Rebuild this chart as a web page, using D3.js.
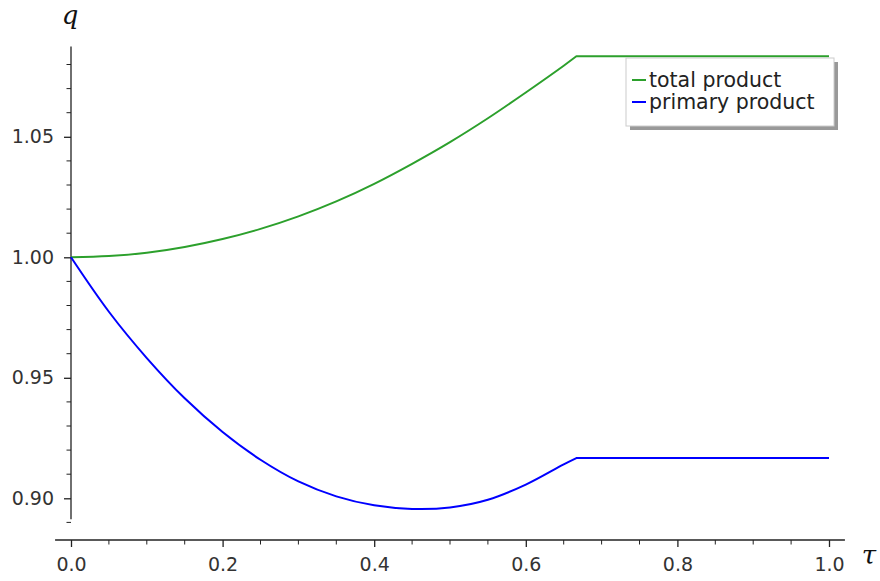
<!DOCTYPE html>
<html>
<head>
<meta charset="utf-8">
<script src="https://cdn.jsdelivr.net/npm/d3@7"></script>
<style>
  body { margin: 0; background: #fff; }
  svg { display: block; font-family: "DejaVu Sans", sans-serif; }
</style>
</head>
<body>
<div id="plot"></div>
<script>
// values
var tau = [0, 0.05, 0.1, 0.15, 0.2, 0.25, 0.3, 0.35, 0.4, 0.45, 0.5, 0.55, 0.6, 0.65, 0.6667, 1.0];
var totalProduct = [1.0, 1.0005, 1.0019, 1.0043, 1.0076, 1.0118, 1.0170, 1.0232, 1.0305, 1.0388,
                    1.0478, 1.0577, 1.0684, 1.0795, 1.0834, 1.0834];
var primaryProduct = [1.0, 0.9774, 0.9582, 0.9415, 0.9275, 0.9160, 0.9070, 0.9008, 0.8971, 0.8956,
                      0.8962, 0.8994, 0.9057, 0.9141, 0.9167, 0.9167];
var seriesNames = ['total product', 'primary product'];
var seriesColors = ['#2ca02c', '#0000ff'];
var xTicks = [0, 0.2, 0.4, 0.6, 0.8, 1.0];
var yTicks = [0.90, 0.95, 1.00, 1.05];
var kink = 14; // index where the curves go flat

var width = 880, height = 581;

var svg = d3.select('#plot').append('svg')
    .attr('width', width)
    .attr('height', height);

var x = d3.scaleLinear().domain([0, 1]).range([71, 829]);
var y = d3.scaleLinear().domain([0.90, 1.05]).range([498.3, 136.8]);

/* y axis */
var yAxis = d3.axisLeft(y)
    .tickValues(yTicks)
    .tickFormat(d3.format('.2f'))
    .tickSize(7)
    .tickPadding(10);
var gy = svg.append('g').attr('transform', 'translate(71,0)').call(yAxis)
    .attr('font-family', '"DejaVu Sans", sans-serif').attr('font-size', 19);
gy.select('.domain').remove();
gy.append('line').attr('x1', 0).attr('x2', 0)
    .attr('y1', y(1.0875)).attr('y2', y(0.8913))
    .attr('stroke', '#222').attr('stroke-width', 1.3);
gy.selectAll('.tick line').attr('stroke', '#222').attr('stroke-width', 1.3);
gy.selectAll('.tick text').attr('fill', '#333');

var yMinor = d3.range(0.89, 1.0851, 0.01).filter(function(v){
    return yTicks.every(function(t){ return Math.abs(t - v) > 1e-6; });
});
gy.selectAll('.minor').data(yMinor).enter().append('line')
    .attr('class', 'minor')
    .attr('x1', -4.5).attr('x2', 0)
    .attr('y1', function(d){ return y(d); })
    .attr('y2', function(d){ return y(d); })
    .attr('stroke', '#222').attr('stroke-width', 1);

/* x axis */
var xAxis = d3.axisBottom(x)
    .tickValues(xTicks)
    .tickFormat(d3.format('.1f'))
    .tickSize(7)
    .tickPadding(11);
var gx = svg.append('g').attr('transform', 'translate(0,540)').call(xAxis)
    .attr('font-family', '"DejaVu Sans", sans-serif').attr('font-size', 19);
gx.select('.domain').remove();
gx.append('line').attr('x1', x(-0.021)).attr('x2', x(1.021))
    .attr('y1', 0).attr('y2', 0)
    .attr('stroke', '#222').attr('stroke-width', 1.3);
gx.selectAll('.tick line').attr('stroke', '#222').attr('stroke-width', 1.3);
gx.selectAll('.tick text').attr('fill', '#333');

var xMinor = d3.range(0.05, 1.0, 0.05).filter(function(v){
    return xTicks.every(function(t){ return Math.abs(t - v) > 1e-6; });
});
gx.selectAll('.minor').data(xMinor).enter().append('line')
    .attr('class', 'minor')
    .attr('x1', function(d){ return x(d); })
    .attr('x2', function(d){ return x(d); })
    .attr('y1', 0).attr('y2', 4.5)
    .attr('stroke', '#222').attr('stroke-width', 1);

/* axis labels */
svg.append('text').attr('x', 70).attr('y', 24)
    .attr('text-anchor', 'middle')
    .style('font-family', '"DejaVu Serif", serif').style('font-style', 'italic')
    .style('font-size', '26px').attr('fill', '#111').text('q');
svg.append('text').attr('x', 869).attr('y', 564)
    .attr('text-anchor', 'middle')
    .style('font-family', '"DejaVu Serif", serif').style('font-style', 'italic')
    .style('font-size', '26px').attr('fill', '#111').text('τ');

/* curves: smooth part up to the kink, then straight */
var series = [totalProduct, primaryProduct];
var curved = d3.line()
    .x(function(d){ return x(d[0]); })
    .y(function(d){ return y(d[1]); })
    .curve(d3.curveCatmullRom.alpha(0.5));
var straight = d3.line()
    .x(function(d){ return x(d[0]); })
    .y(function(d){ return y(d[1]); });

series.forEach(function(vals, s){
    var pts = vals.map(function(v, i){ return [tau[i], v]; });
    svg.append('path')
        .attr('d', curved(pts.slice(0, kink + 1)) + straight(pts.slice(kink)).replace('M', 'L'))
        .attr('fill', 'none')
        .attr('stroke', seriesColors[s])
        .attr('stroke-width', 2)
        .attr('stroke-linejoin', 'round');
});

/* legend */
var legend = svg.append('g').attr('transform', 'translate(626,58)');
legend.append('rect').attr('x', 4).attr('y', 4).attr('width', 208).attr('height', 68)
    .attr('fill', '#999');
legend.append('rect').attr('x', 0).attr('y', 0).attr('width', 208).attr('height', 68)
    .attr('fill', '#fff').attr('stroke', '#ccc').attr('stroke-width', 1);

var items = legend.selectAll('.item').data(seriesNames).enter().append('g')
    .attr('class', 'item')
    .attr('transform', function(d, i){ return 'translate(0,' + (22 + i * 22) + ')'; });
items.append('line').attr('x1', 6).attr('x2', 20).attr('y1', 0).attr('y2', 0)
    .attr('stroke', function(d, i){ return seriesColors[i]; })
    .attr('stroke-width', 2);
items.append('text').attr('x', 23).attr('y', 7)
    .style('font-size', '20.5px').attr('fill', '#222')
    .text(function(d){ return d; });
</script>
</body>
</html>
